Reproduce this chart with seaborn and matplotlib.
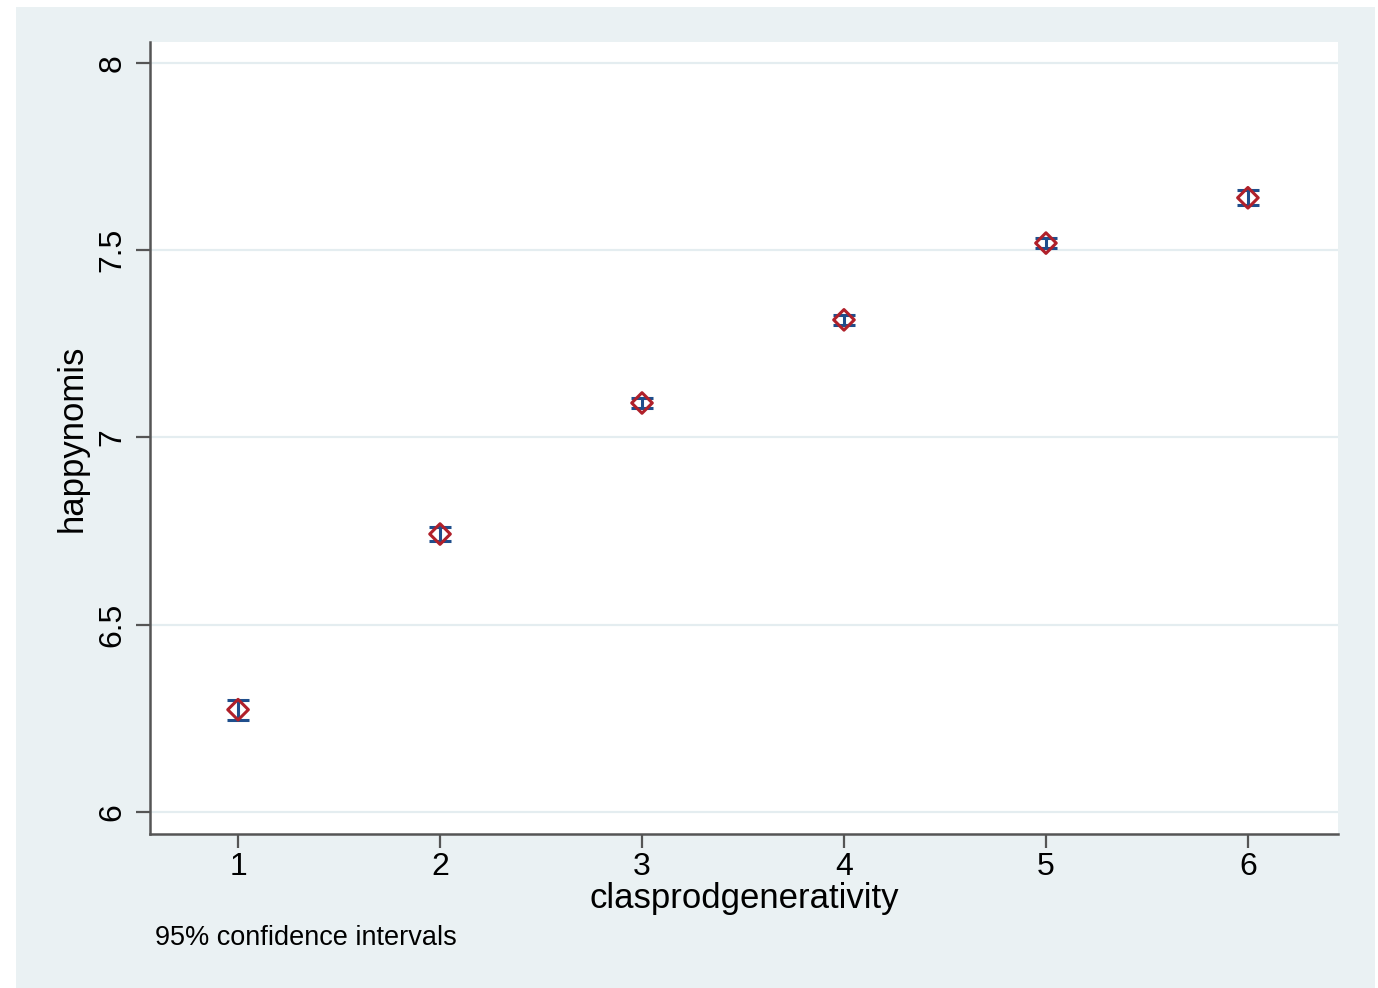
import matplotlib
matplotlib.use("Agg")
import matplotlib.pyplot as plt
import seaborn as sns
import pandas as pd
from matplotlib.patches import Rectangle

categories = [1, 2, 3, 4, 5, 6]
means = [6.273, 6.742, 7.092, 7.314, 7.519, 7.640]
ci_half = [0.027, 0.018, 0.014, 0.013, 0.013, 0.020]
yticks = [6, 6.5, 7, 7.5, 8]
ytick_labels = ["6", "6.5", "7", "7.5", "8"]

df = pd.DataFrame({"clasprodgenerativity": categories, "happynomis": means, "ci": ci_half})

sns.set_theme(style="white")
plt.rcParams["font.family"] = ["Liberation Sans", "DejaVu Sans"]

W, H = 1378, 988
fig = plt.figure(figsize=(W / 100, H / 100), dpi=100, facecolor="white")
bg = "#EAF1F3"
fig.patches.append(Rectangle((16 / W, 0), (1375 - 16) / W, 1 - 7 / H,
                             transform=fig.transFigure, facecolor=bg, edgecolor="none", zorder=-10))

ax = fig.add_axes([150 / W, 1 - 834 / H, (1338 - 150) / W, (834 - 42) / H])
ax.set_facecolor("white")

for y in yticks:
    ax.axhline(y, color="#E4EDF0", lw=1.6, zorder=0)

ax.errorbar(df["clasprodgenerativity"], df["happynomis"], yerr=df["ci"], fmt="none",
            ecolor="#1F4E8C", elinewidth=2.2, capsize=8, capthick=2.2, zorder=2)
sns.scatterplot(data=df, x="clasprodgenerativity", y="happynomis", ax=ax, marker="D",
                s=110, facecolor="none", edgecolor="#B0202A", linewidth=2.2, zorder=3, legend=False)

ax.set_xlim(0.564, 6.446)
ax.set_ylim(5.941, 8.056)
ax.set_xticks(categories)
ax.set_xticklabels([str(c) for c in categories], fontsize=23)
ax.set_yticks(yticks)
ax.set_yticklabels(ytick_labels, fontsize=23, rotation=90, va="center")

for s in ["top", "right"]:
    ax.spines[s].set_visible(False)
for s in ["left", "bottom"]:
    ax.spines[s].set_color("#555555")
    ax.spines[s].set_linewidth(1.8)

ax.tick_params(axis="both", direction="out", length=10, width=1.6, color="#555555",
               left=True, bottom=True, labelcolor="black")
ax.tick_params(axis="y", pad=6)
ax.tick_params(axis="x", pad=3)

ax.set_xlabel("clasprodgenerativity", fontsize=25, labelpad=0, color="black")
ax.set_ylabel("happynomis", fontsize=25, color="black", va="center")
ax.yaxis.set_label_coords((72 - 150) / 1188, 0.5)

fig.text(155 / W, 1 - 938 / H, "95% confidence intervals", fontsize=19.5, va="center",
         ha="left", color="black")

fig.savefig("out.png", dpi=100, facecolor="white")
